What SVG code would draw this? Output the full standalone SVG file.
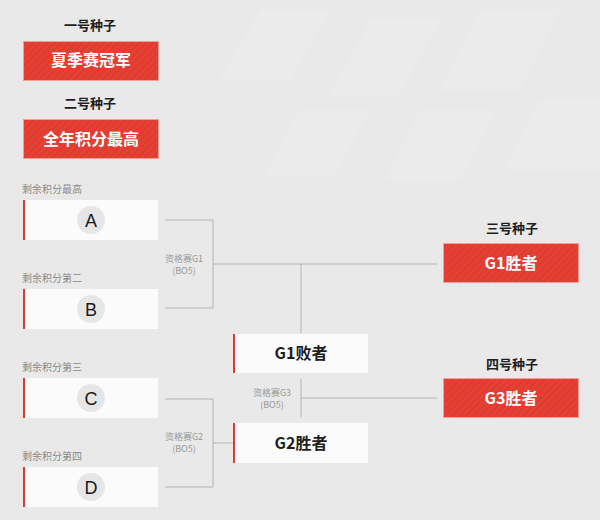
<svg xmlns="http://www.w3.org/2000/svg" width="600" height="520" viewBox="0 0 600 520">
<defs>
<pattern id="stripe" width="5" height="5" patternUnits="userSpaceOnUse" patternTransform="rotate(45)">
<rect width="5" height="5" fill="#e13a2f"/>
<rect width="2.5" height="5" fill="#e44237"/>
</pattern>
<style>
.cjk{font-family:"Noto Sans CJK SC","Noto Sans",sans-serif}
.seed{font-size:13px;font-weight:700;fill:#1e1e1e;text-anchor:middle}
.red{fill:url(#stripe);stroke:#f0a098;stroke-width:1}
.redt{font-size:16px;font-weight:700;fill:#fff;text-anchor:middle}
.wbox{fill:#fbfbfb}
.bar{fill:#e0382c}
.sub{font-size:10px;fill:#8a8a8a}
.circ{fill:#e6e6e6}
.letter{font-family:"Liberation Sans",Arial,sans-serif;font-size:18px;fill:#1a1a1a;text-anchor:middle}
.mt{font-size:16px;font-weight:700;fill:#1e1e1e;text-anchor:middle}
.ln{fill:none;stroke:#b4b4b4;stroke-width:1}
.ml{font-size:9px;fill:#999;text-anchor:middle}
</style>
</defs>
<rect width="600" height="520" fill="#e9e9e9"/>
<g fill="#ebebeb">
<polygon points="260,10 330,10 290,80 220,80"/>
<polygon points="370,20 440,20 400,95 330,95"/>
<polygon points="480,10 560,10 520,90 440,90"/>
<polygon points="300,110 370,110 335,175 265,175"/>
<polygon points="420,110 495,110 460,180 385,180"/>
<polygon points="540,100 600,100 600,170 505,170"/>
</g>

<g id="connectors">
<polyline class="ln" points="165,220 213,220 213,308 165,308"/>
<line class="ln" x1="213" y1="264" x2="437" y2="264"/>
<line class="ln" x1="301" y1="264" x2="301" y2="333"/>
<polyline class="ln" points="165,399 213,399 213,487 165,487"/>
<line class="ln" x1="213" y1="443" x2="233" y2="443"/>
<line class="ln" x1="301" y1="379" x2="301" y2="417"/>
<line class="ln" x1="301" y1="398" x2="437" y2="398"/>
<text class="cjk ml" x="184" y="262">资格赛G1</text>
<text class="cjk ml" x="184" y="274">(BO5)</text>
<text class="cjk ml" x="184" y="440">资格赛G2</text>
<text class="cjk ml" x="184" y="452">(BO5)</text>
<text class="cjk ml" x="272" y="396">资格赛G3</text>
<text class="cjk ml" x="272" y="408">(BO5)</text>
</g>

<g id="seed1">
<text class="cjk seed" x="90" y="30">一号种子</text>
<rect class="red" x="23.5" y="41.5" width="135" height="39"/>
<text class="cjk redt" x="91" y="66">夏季赛冠军</text>
</g>
<g id="seed2">
<text class="cjk seed" x="90" y="108">二号种子</text>
<rect class="red" x="23.5" y="119.5" width="135" height="39"/>
<text class="cjk redt" x="91" y="145">全年积分最高</text>
</g>

<g id="teamA">
<text class="cjk sub" x="22" y="193">剩余积分最高</text>
<rect class="wbox" x="23" y="200" width="135" height="40"/>
<rect class="bar" x="23" y="200" width="2" height="40"/>
<circle class="circ" cx="91" cy="220" r="14"/>
<text class="letter" x="91" y="227">A</text>
</g>
<g id="teamB">
<text class="cjk sub" x="22" y="282">剩余积分第二</text>
<rect class="wbox" x="23" y="289" width="135" height="40"/>
<rect class="bar" x="23" y="289" width="2" height="40"/>
<circle class="circ" cx="91" cy="309" r="14"/>
<text class="letter" x="91" y="316">B</text>
</g>
<g id="teamC">
<text class="cjk sub" x="22" y="371">剩余积分第三</text>
<rect class="wbox" x="23" y="378" width="135" height="40"/>
<rect class="bar" x="23" y="378" width="2" height="40"/>
<circle class="circ" cx="91" cy="398" r="14"/>
<text class="letter" x="91" y="405">C</text>
</g>
<g id="teamD">
<text class="cjk sub" x="22" y="460">剩余积分第四</text>
<rect class="wbox" x="23" y="467" width="135" height="40"/>
<rect class="bar" x="23" y="467" width="2" height="40"/>
<circle class="circ" cx="91" cy="487" r="14"/>
<text class="letter" x="91" y="494">D</text>
</g>

<g id="g1loser">
<rect class="wbox" x="233" y="334" width="135" height="39"/>
<rect class="bar" x="233" y="334" width="2" height="39"/>
<text class="cjk mt" x="301" y="359">G1败者</text>
</g>
<g id="g2winner">
<rect class="wbox" x="233" y="423" width="135" height="40"/>
<rect class="bar" x="233" y="423" width="2" height="40"/>
<text class="cjk mt" x="301" y="449">G2胜者</text>
</g>

<g id="seed3">
<text class="cjk seed" x="512" y="233">三号种子</text>
<rect class="red" x="443.5" y="243.5" width="135" height="39"/>
<text class="cjk redt" x="511" y="269">G1胜者</text>
</g>
<g id="seed4">
<text class="cjk seed" x="512" y="369">四号种子</text>
<rect class="red" x="443.5" y="378.5" width="135" height="39"/>
<text class="cjk redt" x="511" y="404">G3胜者</text>
</g>
</svg>
